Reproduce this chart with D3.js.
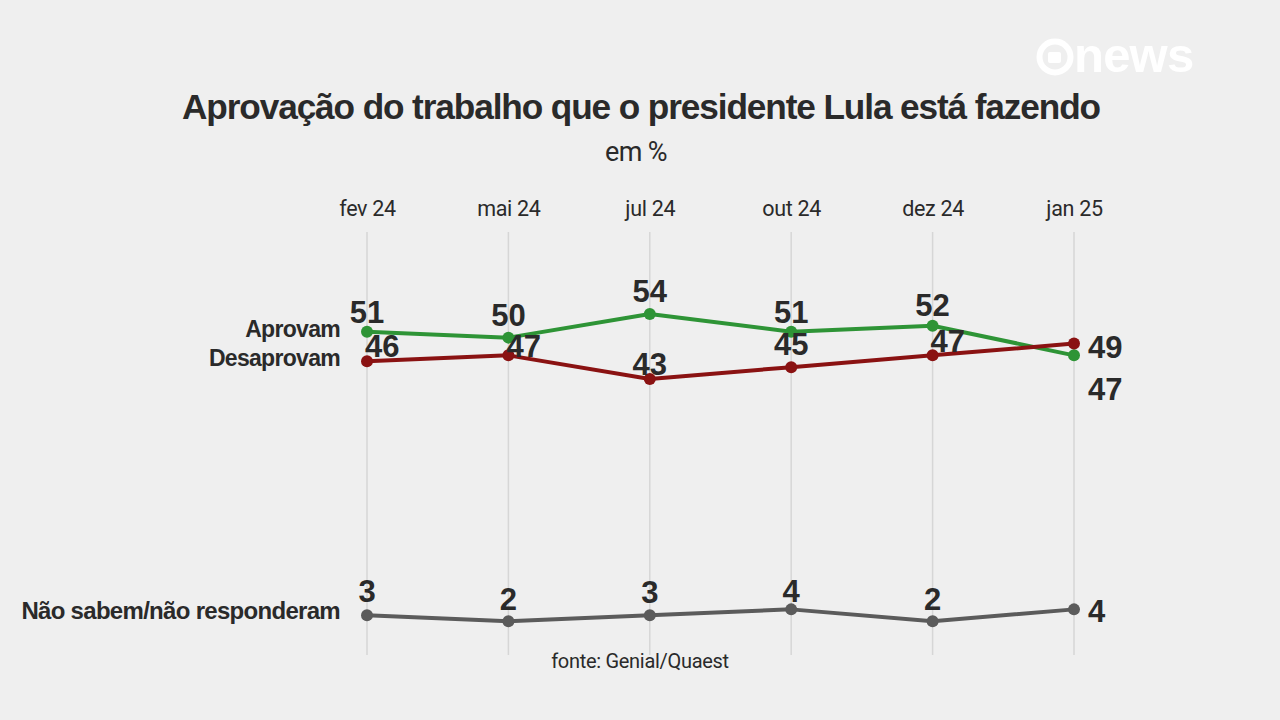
<!DOCTYPE html>
<html><head><meta charset="utf-8">
<script src="https://cdn.jsdelivr.net/npm/d3@7/dist/d3.min.js"></script>
<style>
html,body{margin:0;padding:0;background:#efefef;}
svg{display:block;}
</style></head>
<body>
<svg id="chart" width="1280" height="720"></svg>
<script>
const months = ["fev 24","mai 24","jul 24","out 24","dez 24","jan 25"];
const aprovam = [51,50,54,51,52,47];
const desaprovam = [46,47,43,45,47,49];
const naoSabem = [3,2,3,4,2,4];
const seriesNames = ["Aprovam","Desaprovam","Não sabem/não responderam"];
const title = "Aprovação do trabalho que o presidente Lula está fazendo";
const subtitle = "em %";
const source = "fonte: Genial/Quaest";

const svg = d3.select("#chart");
const W = 1280, H = 720;
svg.append("rect").attr("width",W).attr("height",H).attr("fill","#efefef");

const x = d3.scalePoint().domain(months).range([367,1074]);
const y = d3.scaleLinear().domain([0,54]).range([633,314]);

const ink = "#2a2a2a";
const bold = "'Liberation Sans', Arial, sans-serif";
const reg = "'Roboto', 'Liberation Sans', sans-serif";

// logo
const logo = svg.append("g").attr("fill","#ffffff");
logo.append("circle").attr("cx",1055).attr("cy",57).attr("r",15.5).attr("fill","none").attr("stroke","#fff").attr("stroke-width",6);
logo.append("rect").attr("x",1048).attr("y",52).attr("width",13).attr("height",11).attr("rx",2);
logo.append("text").attr("x",1074).attr("y",72).attr("font-family",bold).attr("font-weight","bold")
  .attr("font-size",49).attr("letter-spacing",-0.8).text("news");

// title
svg.append("text").attr("x",641).attr("y",119).attr("text-anchor","middle")
  .attr("font-family",bold).attr("font-weight","bold").attr("font-size",35.2).attr("letter-spacing",-1.1)
  .attr("fill",ink).text(title);
svg.append("text").attr("x",636).attr("y",161).attr("text-anchor","middle")
  .attr("font-family",reg).attr("font-size",27).attr("letter-spacing",-0.6)
  .attr("fill",ink).text(subtitle);

// month axis
const xAxis = d3.axisTop(x).tickSize(0).tickPadding(0);
const gx = svg.append("g").attr("transform","translate(0,216)").call(xAxis);
gx.select(".domain").remove();
gx.selectAll("text").attr("font-family",reg).attr("font-size",21.5)
  .attr("letter-spacing",-0.3).attr("fill",ink).attr("dy",0);

// vertical gridlines
svg.append("g").selectAll("line").data(months).join("line")
  .attr("x1",d=>x(d)).attr("x2",d=>x(d)).attr("y1",232).attr("y2",655)
  .attr("stroke","#d6d6d6").attr("stroke-width",1.5);

// series (label placement: mode per point, baseline offset per point)
const series = [
  {name:seriesNames[0], values:aprovam, color:"#2e9436",
   place:["mid","mid","mid","mid","mid","below"], dy:[-9,-12,-12,-9,-10,45]},
  {name:seriesNames[1], values:desaprovam, color:"#8a1212",
   place:["start","start","mid","mid","start","right"], dy:[-4,2,-4,-12,-3,14]},
  {name:seriesNames[2], values:naoSabem, color:"#5b5b5b",
   place:["mid","mid","mid","mid","mid","right"], dy:[-13,-11,-12,-7,-11,13]}
];

const line = d3.line().x((d,i)=>x(months[i])).y(d=>y(d));

series.forEach(s=>{
  svg.append("path").datum(s.values).attr("d",line).attr("fill","none")
    .attr("stroke",s.color).attr("stroke-width",4).attr("stroke-linejoin","round");
  svg.append("g").selectAll("circle").data(s.values).join("circle")
    .attr("cx",(d,i)=>x(months[i])).attr("cy",d=>y(d)).attr("r",6).attr("fill",s.color);
});

// series name labels
const nameLabels = [
  {text:seriesNames[0], v:aprovam[0], dy:5, size:23},
  {text:seriesNames[1], v:desaprovam[0], dy:5, size:23},
  {text:seriesNames[2], v:naoSabem[0], dy:4, size:24}
];
svg.append("g").selectAll("text").data(nameLabels).join("text")
  .attr("x",340).attr("y",d=>y(d.v)+d.dy).attr("text-anchor","end")
  .attr("font-family",bold).attr("font-weight","bold").attr("font-size",d=>d.size).attr("letter-spacing",-0.7)
  .attr("fill",ink).text(d=>d.text);

// value labels
series.forEach(s=>{
  svg.append("g").selectAll("text").data(s.values).join("text")
    .attr("font-family",bold).attr("font-weight","bold").attr("font-size",31).attr("fill",ink)
    .each(function(d,i){
      const px = x(months[i]), py = y(d), p = s.place[i], dy = s.dy[i];
      const t = d3.select(this).text(d).attr("y",py+dy);
      if(p==="mid"){ t.attr("x",px).attr("text-anchor","middle"); }
      else if(p==="start"){ t.attr("x",px-2).attr("text-anchor","start"); }
      else { t.attr("x",px+14).attr("text-anchor","start"); }
    });
});

// source
svg.append("text").attr("x",640).attr("y",668).attr("text-anchor","middle")
  .attr("font-family",reg).attr("font-size",20).attr("letter-spacing",-0.3)
  .attr("fill",ink).text(source);
</script>
</body></html>
